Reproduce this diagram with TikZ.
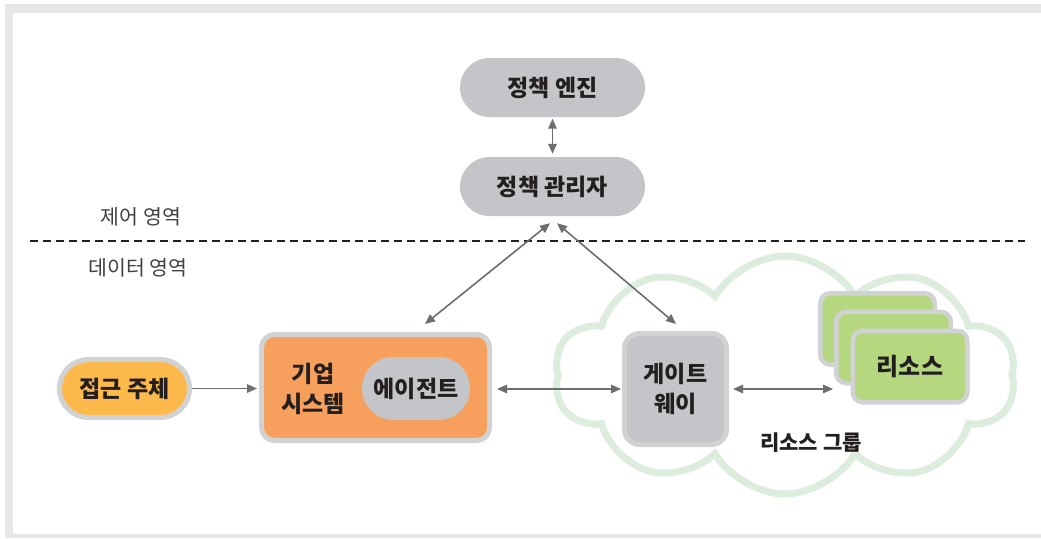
\documentclass[tikz,border=0pt]{standalone}
\usepackage{fontspec}
\setmainfont{Noto Sans CJK KR}
\usetikzlibrary{shapes.misc,shapes.symbols,arrows.meta}
\definecolor{framegray}{HTML}{E6E7E8}
\definecolor{nodegray}{HTML}{C4C5C8}
\definecolor{bordergray}{HTML}{D1D2D4}
\definecolor{orangebox}{HTML}{F79F5C}
\definecolor{yellowbox}{HTML}{FDB94B}
\definecolor{greenbox}{HTML}{B5D780}
\definecolor{cloudgreen}{HTML}{DDEDDD}
\definecolor{arrowgray}{HTML}{6D6E71}
\definecolor{textdark}{HTML}{231F20}
\definecolor{labelgray}{HTML}{414042}

\tikzset{
    pill/.style={rounded rectangle, fill=nodegray, text=textdark, inner sep=0pt,
        font=\bfseries\fontsize{23}{30}\selectfont},
    box/.style={rectangle, rounded corners=13pt, draw=bordergray, line width=5pt,
        text=textdark, inner sep=0pt, align=center,
        font=\bfseries\fontsize{23}{30}\selectfont},
    resbox/.style={box, fill=greenbox, line width=4.5pt, rounded corners=10pt,
        minimum width=114.5pt, minimum height=71.5pt},
    arealabel/.style={text=labelgray, font=\fontsize{20.5}{24}\selectfont},
    link/.style={draw=arrowgray, line width=1.6pt,
        -{Triangle[length=10pt, width=8.5pt]}},
    biglink/.style={link, {Triangle[length=10pt, width=8.5pt]}-{Triangle[length=10pt, width=8.5pt]}}
}

\begin{document}
\begin{tikzpicture}[x=1pt, y=-1pt]
    \useasboundingbox (0, 0) rectangle (1041, 538);
    % Frame
    \fill[framegray] (5, 4) rectangle (1041, 538);
    \fill[white] (12.5, 12.5) rectangle (1041, 534);

    % Control plane
    \node[pill, minimum width=185pt, minimum height=59pt] (engine) at (552.5, 87.5) {정책 엔진};
    \node[pill, minimum width=185pt, minimum height=59pt] (manager) at (552.5, 186.5) {정책 관리자};
    \draw[biglink, shorten <=1.5pt, shorten >=3pt] (engine.south) -- (manager.north);

    \node[arealabel] (ctrllabel) at (141, 217) {제어 영역};
    \node[arealabel] (datalabel) at (138, 268) {데이터 영역};
    \coordinate (planeL) at (30, 241);
    \coordinate (planeR) at (1025, 241);
    \draw[textdark, line width=2.5pt, dash pattern=on 8pt off 5pt] (planeL) -- (planeR);

    % Resource group
    \node[cloud, cloud puffs=10, cloud puff arc=120, aspect=2, draw=cloudgreen,
        line width=7pt, minimum width=461pt, minimum height=238pt] (group) at (785, 375) {};
    \node[text=textdark, font=\bfseries\fontsize{21}{24}\selectfont] (grouplabel) at (811, 443) {리소스 그룹};

    % Data plane
    \node[pill, draw=bordergray, line width=5pt, fill=yellowbox,
        minimum width=130pt, minimum height=58pt] (subject) at (124.5, 388.5) {접근 주체};
    \node[box, fill=orangebox, minimum width=228pt, minimum height=106pt] (system) at (375.5, 387.5) {};
    \node[text=textdark, align=center, font=\bfseries\fontsize{23}{30}\selectfont] (systemtext) at (313, 389) {기업\\시스템};
    \node[pill, minimum width=108pt, minimum height=63pt] (agent) at (416, 388.5) {에이전트};
    \node[box, fill=nodegray, rounded corners=15pt, minimum width=102pt, minimum height=111pt] (gateway) at (675.5, 389) {게이트\\웨이};

    \node[resbox] (resback) at (877.5, 329) {};
    \node[resbox] (resmid) at (893.5, 347.5) {};
    \node[resbox, font=\bfseries\fontsize{24}{30}\selectfont] (resfront) at (910, 366.5) {리소스};

    % Connectors
    \draw[link, shorten >=2pt] (subject.east) -- (subject.east -| system.west);
    \draw[biglink, shorten <=5pt, shorten >=1pt] (system.east |- gateway.west) -- (gateway.west);
    \draw[biglink, shorten <=4pt, shorten >=1pt] (gateway.east) -- (gateway.east -| resmid.west);
    \draw[biglink] ([xshift=-2.5pt, yshift=-7pt]manager.south) -- ([xshift=49.5pt, yshift=8pt]system.north);
    \draw[biglink] ([xshift=4.5pt, yshift=-7pt]manager.south) -- ([xshift=0.5pt, yshift=7pt]gateway.north);
\end{tikzpicture}
\end{document}
